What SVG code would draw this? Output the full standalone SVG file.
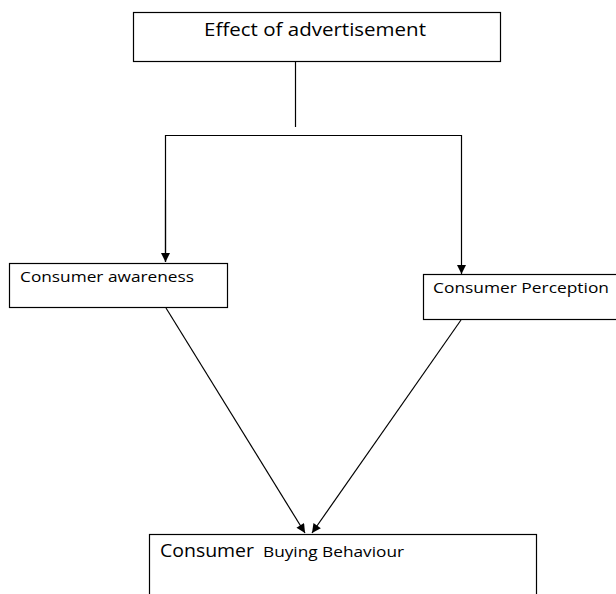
<svg xmlns="http://www.w3.org/2000/svg" width="616" height="594" viewBox="0 0 616 594">
<style>
.box{fill:#fff;stroke:#000;stroke-width:1.2}
.ln{fill:none;stroke:#000;stroke-width:1.2}
.t{font-family:"Open Sans","Liberation Sans",sans-serif;fill:#000}
</style>
<defs>
<marker id="ah" viewBox="0 0 10 10" refX="10" refY="5" markerWidth="10" markerHeight="9" markerUnits="userSpaceOnUse" orient="auto">
<path d="M0,0 L10,5 L0,10 Z" fill="#000"/>
</marker>
</defs>
<rect width="616" height="594" fill="#fff"/>
<g id="connectors">
<line class="ln" x1="295.5" y1="61" x2="295.5" y2="127"/>
<polyline class="ln" points="165.5,262 165.5,135.5 461.5,135.5 461.5,274" marker-end="url(#ah)"/>
<path class="ln" d="M165.5,200 L165.5,262" marker-end="url(#ah)"/>
<line class="ln" x1="166" y1="308" x2="305" y2="533" marker-end="url(#ah)"/>
<line class="ln" x1="461" y1="320" x2="312" y2="533" marker-end="url(#ah)"/>
</g>
<g id="effect">
<rect class="box" x="133.5" y="12.5" width="367" height="49"/>
<text class="t" x="204" y="36" font-size="19" textLength="222" lengthAdjust="spacingAndGlyphs">Effect of advertisement</text>
</g>
<g id="awareness">
<rect class="box" x="9.5" y="263.5" width="218" height="44"/>
<text class="t" x="20" y="282" font-size="14" textLength="174" lengthAdjust="spacingAndGlyphs">Consumer awareness</text>
</g>
<g id="perception">
<rect class="box" x="423.5" y="274.5" width="200" height="45"/>
<text class="t" x="433" y="293" font-size="14" textLength="176" lengthAdjust="spacingAndGlyphs">Consumer Perception</text>
</g>
<g id="behaviour">
<rect class="box" x="149.5" y="534.5" width="387" height="80"/>
<text class="t" x="160" y="557"><tspan font-size="18" textLength="94" lengthAdjust="spacingAndGlyphs">Consumer</tspan><tspan x="263" font-size="14" textLength="141" lengthAdjust="spacingAndGlyphs">Buying Behaviour</tspan></text>
</g>
</svg>
